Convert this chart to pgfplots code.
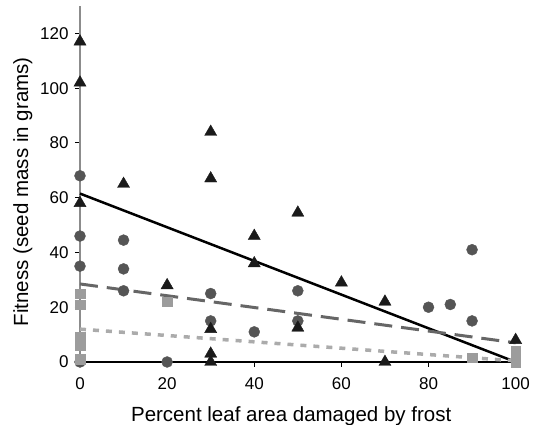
\documentclass[border=0pt]{standalone}
\usepackage{fontspec}
\setmainfont{Liberation Sans}
\usepackage{pgfplots}
\pgfplotsset{compat=1.18}

\definecolor{circ}{HTML}{555555}
\definecolor{sq}{HTML}{9C9C9C}
\definecolor{tri}{HTML}{1A1A1A}
\definecolor{dashc}{HTML}{666666}
\definecolor{dotc}{HTML}{ABABAB}
\definecolor{yaxc}{HTML}{8C8C8C}

\begin{document}
\begin{tikzpicture}
  \useasboundingbox (-80pt,-63pt) rectangle (456pt,362pt);
  \begin{axis}[
      scale only axis,
      width=440pt, height=356pt,
      xmin=0, xmax=101,
      ymin=0, ymax=130,
      clip=false,
      axis lines*=left,
      x axis line style={black, line width=1.1pt},
      y axis line style={yaxc, line width=1.8pt},
      xtick={0,20,...,100},
      ytick={0,20,...,120},
      tick align=outside,
      major tick length=5pt,
      tick style={black, line width=0.9pt},
      /pgf/number format/assume math mode=true,
      xticklabel style={font=\fontsize{17}{19}\selectfont, yshift=-7pt},
      yticklabel style={font=\fontsize{17}{19}\selectfont, xshift=-3pt},
      label style={font=\fontsize{20.5}{23}\selectfont},
      xlabel={Percent leaf area damaged by frost},
      ylabel={Fitness (seed mass in grams)},
      xlabel style={at={(axis description cs:0.48,-0.166)}, anchor=base},
      ylabel style={at={(axis description cs:-0.13,0.478)}, anchor=center},
    ]
    % regression lines
    \addplot[black, line width=2.5pt] coordinates {(0,61.5) (100,0)};
    \addplot[dashc, line width=3pt, dash pattern=on 18pt off 9pt] coordinates {(0,28.5) (100,7)};
    \addplot[dotc, line width=3.5pt, dash pattern=on 6pt off 7pt] coordinates {(0,12) (100,0.4)};

    % circles
    \addplot[only marks, mark=*, mark size=5.5pt, mark options={circ, draw=circ}]
      coordinates {
        (0,68) (0,46) (0,35) (0,0)
        (10,44.5) (10,34) (10,26)
        (20,0)
        (30,25) (30,15)
        (40,11)
        (50,26) (50,15)
        (80,20) (85,21) (90,41) (90,15)
      };

    % triangles
    \addplot[only marks, mark=triangle*, mark size=7pt, mark options={tri, draw=tri}]
      coordinates {
        (0,117) (0,102) (0,58)
        (10,65)
        (20,28)
        (30,84) (30,67) (30,12) (30,3) (30,0)
        (40,46) (40,36)
        (50,54.5) (50,12.5)
        (60,29)
        (70,22) (70,0)
        (100,8)
      };

    % squares
    \addplot[only marks, mark=square*, mark size=4.75pt, mark options={sq, draw=sq}]
      coordinates {
        (0,25) (0,21) (0,9) (0,7.5) (0,6) (0,1)
        (20,22)
        (90,1.5)
        (100,4) (100,2) (100,0)
      };
  \end{axis}
\end{tikzpicture}
\end{document}
